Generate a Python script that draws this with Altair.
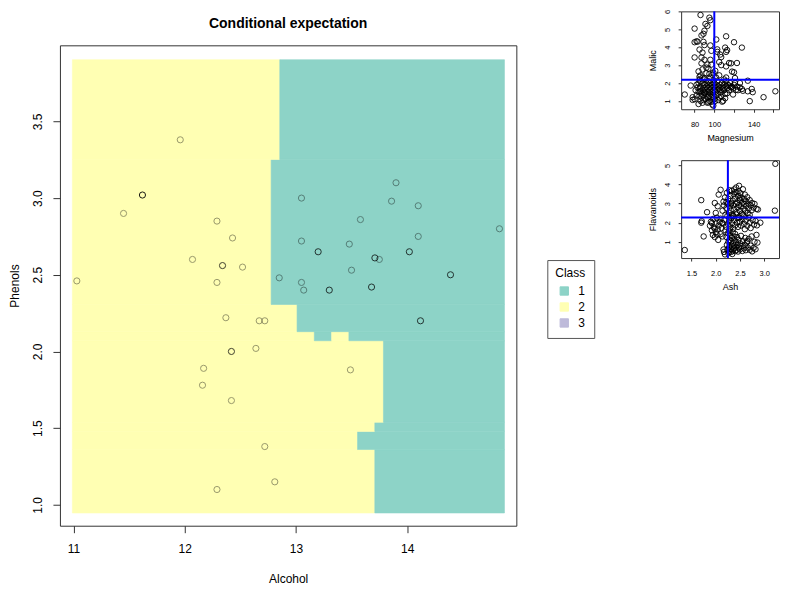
import altair as alt
import pandas as pd

# ---------------- main panel: predicted class on a 50 x 50 grid ----------------
grid_x0 = 10.99      # left edge of the grid (Alcohol)
grid_dx = 0.0777     # cell width
grid_y0 = 0.947      # bottom edge of the grid (Phenols)
grid_dy = 0.0591     # cell height
# (first_row, last_row, [(class, n_cells), ...]) rows counted from the bottom
grid_runs = [
    (0, 6, [("2", 35), ("1", 15)]),
    (7, 8, [("2", 33), ("1", 17)]),
    (9, 9, [("2", 35), ("1", 15)]),
    (10, 18, [("2", 36), ("1", 14)]),
    (19, 19, [("2", 28), ("1", 2), ("2", 2), ("1", 18)]),
    (20, 22, [("2", 26), ("1", 24)]),
    (23, 38, [("2", 23), ("1", 27)]),
    (39, 49, [("2", 24), ("1", 26)]),
]

classes = ["1", "2", "3"]
class_colors = ["#8DD3C7", "#FFFFB3", "#BEBADA"]

# observations near the section (Alcohol, Phenols, weight)
alcohol = [11.96, 11.62, 11.45, 12.29, 12.43, 12.07, 12.34, 12.52, 11.03, 12.29,
           13.05, 13.90, 13.86, 14.10, 13.58, 14.83, 13.05, 13.48, 14.10, 13.20,
           13.71, 13.75, 14.02, 13.50, 14.39, 12.85, 13.05, 13.07, 13.30, 13.68,
           14.12, 12.37, 12.67, 12.72, 12.42, 12.64, 12.17, 12.16, 12.42, 13.49,
           12.72, 12.81, 12.29]
phenols = [3.38, 3.02, 2.90, 2.85, 2.74, 2.60, 2.56, 2.55, 2.46, 2.45,
           3.00, 3.10, 2.98, 2.95, 2.86, 2.80, 2.72, 2.70, 2.75, 2.65,
           2.61, 2.60, 2.65, 2.53, 2.50, 2.48, 2.45, 2.40, 2.40, 2.42,
           2.20, 2.22, 2.20, 2.20, 2.00, 2.02, 1.89, 1.78, 1.68, 1.88,
           1.38, 1.15, 1.10]
weight = [0.40, 0.90, 0.40, 0.40, 0.40, 0.40, 0.75, 0.40, 0.40, 0.40,
          0.40, 0.40, 0.40, 0.40, 0.40, 0.40, 0.40, 0.40, 0.40, 0.75,
          0.75, 0.40, 0.75, 0.40, 0.75, 0.40, 0.40, 0.40, 0.75, 0.75,
          0.75, 0.40, 0.40, 0.40, 0.75, 0.40, 0.40, 0.40, 0.40, 0.40,
          0.40, 0.40, 0.40]

# ---------------- small panel 1: Magnesium vs Malic ----------------
magnesium_malic = [
    (86, 5.80), (95, 5.65), (96, 5.51), (93, 5.19), (80, 5.04), (91, 5.30), (90, 4.92), (87, 4.66),
    (89, 4.75), (102, 4.43), (112, 4.61), (83, 4.31), (80, 4.28), (82, 4.33), (89, 4.30), (90, 4.12),
    (96, 4.10), (120, 4.28), (128, 3.98), (103, 3.88), (111, 3.98), (113, 3.84), (85, 3.87), (88, 3.70),
    (97, 3.80), (103, 3.74), (112, 3.74), (80, 3.43), (87, 3.43), (90, 3.30), (96, 3.30), (106, 3.59),
    (107, 3.45), (117, 3.10), (123, 3.12), (87, 3.10), (93, 3.03), (97, 3.03), (107, 3.00), (115, 3.12),
    (105, 3.17), (92, 2.86), (88, 2.76), (112, 2.93), (118, 2.64), (120, 2.60), (92, 2.55), (95, 2.51),
    (98, 2.46), (86, 2.43), (105, 2.43), (85, 2.35), (90, 2.27), (112, 2.31), (121, 2.28), (134, 2.13),
    (99, 2.58), (101, 2.68), (94, 2.80), (84, 2.65),
    (78, 1.21), (78, 1.06), (84, 0.83), (94, 0.93), (108, 0.96), (109, 1.01), (113, 1.43), (119, 1.36),
    (122, 1.62), (126, 1.76), (128, 1.67), (134, 1.54), (136, 0.99), (138, 1.67), (150, 1.21), (162, 1.54),
    (70, 1.36), (76, 1.86), (139, 1.49), (129, 1.57), (117, 1.76), (116, 1.81),
    (80, 1.10), (81, 1.60), (82, 1.90), (84, 1.50), (84, 2.00), (85, 1.30), (85, 1.70), (86, 1.00),
    (86, 1.80), (86, 2.10), (87, 1.40), (87, 1.20), (88, 1.60), (88, 2.00), (88, 0.90), (89, 1.70),
    (89, 1.30), (90, 1.50), (90, 1.90), (90, 2.20), (91, 1.10), (91, 1.60), (92, 1.80), (92, 1.40),
    (92, 2.00), (93, 1.20), (93, 1.70), (94, 1.50), (94, 1.90), (94, 2.10), (95, 1.30), (95, 1.60),
    (95, 1.00), (96, 1.80), (96, 1.40), (96, 2.00), (97, 1.70), (97, 1.20), (98, 1.50), (98, 1.90),
    (98, 0.80), (99, 1.60), (99, 1.30), (100, 1.80), (100, 1.10), (100, 2.00), (101, 1.50), (101, 1.70),
    (102, 1.90), (102, 1.30), (103, 1.60), (103, 2.10), (104, 1.80), (104, 1.40), (105, 1.70), (105, 1.20),
    (106, 1.90), (106, 1.60), (107, 1.50), (108, 1.80), (108, 2.00), (109, 1.70), (110, 1.60), (110, 1.90),
    (111, 1.40), (112, 1.80), (112, 2.10), (113, 1.70), (114, 1.90), (115, 1.60), (116, 2.00), (118, 1.80),
    (119, 1.70), (120, 1.90), (121, 2.00), (123, 1.80), (124, 1.60), (126, 2.00), (85, 2.20), (88, 2.30),
    (96, 2.30), (102, 2.30), (110, 2.20), (82, 1.30), (83, 1.75), (89, 1.05), (97, 0.95), (99, 0.74),
    (93, 0.90), (101, 1.00), (104, 1.05), (107, 1.25), (111, 1.15), (90, 1.45), (86, 1.55), (99, 2.15),
    (94, 1.25),
]
section_magnesium = 100
section_malic = 2.19

# ---------------- small panel 2: Ash vs Flavanoids ----------------
ash_flavanoids = [
    (3.23, 5.08), (1.36, 0.57), (3.22, 2.63), (1.70, 3.18), (1.82, 2.55), (1.71, 2.08), (1.70, 2.00),
    (1.75, 1.28), (2.10, 3.72), (2.06, 3.47), (2.48, 3.93), (2.92, 2.00), (2.86, 0.96), (2.65, 1.04),
    (1.88, 1.84), (1.90, 2.05), (1.92, 1.60), (1.94, 1.36), (1.95, 2.20), (1.96, 1.76), (1.98, 1.25),
    (2.00, 1.95), (2.00, 1.50), (2.02, 2.26), (2.04, 1.65), (2.05, 1.10), (2.06, 1.85), (2.08, 2.03),
    (2.10, 1.40), (2.12, 1.72), (2.13, 2.00), (2.14, 1.28), (1.92, 1.98), (1.98, 1.68), (2.02, 1.39),
    (2.10, 2.21), (2.00, 2.51), (1.98, 3.03), (2.04, 2.86),
    (2.14, 2.63), (2.16, 3.10), (2.17, 2.90), (2.19, 3.32), (2.20, 2.41), (2.22, 2.76), (2.23, 3.56),
    (2.24, 2.98), (2.26, 3.25), (2.27, 2.52), (2.28, 3.70), (2.29, 2.85), (2.30, 3.40), (2.31, 2.64),
    (2.32, 3.03), (2.33, 3.67), (2.34, 2.43), (2.35, 3.15), (2.36, 2.91), (2.37, 3.49), (2.38, 3.74),
    (2.38, 2.69), (2.40, 3.27), (2.41, 2.98), (2.42, 3.84), (2.43, 2.55), (2.43, 3.59), (2.44, 3.06),
    (2.45, 2.79), (2.46, 3.39), (2.47, 3.64), (2.48, 2.92), (2.50, 3.19), (2.50, 2.61), (2.51, 3.54),
    (2.52, 2.86), (2.53, 3.32), (2.54, 2.47), (2.55, 3.03), (2.56, 3.75), (2.57, 2.74), (2.58, 3.24),
    (2.59, 2.98), (2.60, 3.47), (2.61, 2.63), (2.62, 3.12), (2.63, 2.88), (2.65, 3.33), (2.66, 2.51),
    (2.67, 3.00), (2.68, 2.74), (2.70, 3.18), (2.72, 2.90), (2.74, 2.65), (2.75, 3.03), (2.78, 2.79),
    (2.80, 2.98), (2.84, 2.72), (2.87, 2.69), (2.28, 2.27), (2.36, 2.36), (2.45, 2.24), (2.58, 2.33),
    (2.70, 2.41), (2.22, 3.08), (2.40, 3.60), (2.31, 2.98), (2.49, 3.28),
    (2.20, 1.60), (2.22, 1.25), (2.23, 0.84), (2.24, 0.58), (2.25, 1.45), (2.26, 0.99), (2.27, 0.70),
    (2.28, 1.10), (2.28, 0.48), (2.29, 1.64), (2.30, 0.83), (2.30, 1.32), (2.31, 0.61), (2.32, 1.02),
    (2.32, 0.47), (2.33, 1.20), (2.34, 0.76), (2.35, 1.50), (2.35, 0.55), (2.36, 0.92), (2.37, 1.28),
    (2.37, 0.65), (2.38, 0.80), (2.39, 1.09), (2.40, 0.51), (2.40, 1.41), (2.41, 0.69), (2.42, 0.96),
    (2.43, 0.58), (2.44, 1.25), (2.45, 0.83), (2.46, 0.49), (2.47, 1.10), (2.48, 0.70), (2.50, 0.92),
    (2.50, 0.60), (2.52, 1.31), (2.53, 0.78), (2.55, 0.52), (2.56, 1.03), (2.58, 0.66), (2.60, 0.84),
    (2.61, 1.20), (2.62, 0.56), (2.64, 0.97), (2.66, 0.70), (2.68, 1.15), (2.70, 0.58), (2.72, 0.80),
    (2.74, 1.28), (2.75, 0.50), (2.78, 0.68), (2.80, 1.00), (2.82, 0.61), (2.84, 1.36), (2.16, 0.60),
    (2.17, 0.47), (2.19, 0.34), (2.26, 0.40), (2.34, 0.36),
    (2.15, 1.95), (2.18, 2.15), (2.21, 1.79), (2.24, 2.35), (2.26, 1.90), (2.28, 2.10), (2.30, 1.75),
    (2.32, 2.25), (2.34, 1.98), (2.36, 1.69), (2.38, 2.14), (2.40, 1.86), (2.42, 2.43), (2.44, 2.00),
    (2.46, 1.78), (2.48, 2.27), (2.50, 2.05), (2.52, 1.85), (2.55, 2.19), (2.58, 1.94), (2.60, 1.66),
    (2.62, 2.12), (2.65, 1.84), (2.68, 2.26), (2.70, 2.00), (2.72, 1.72), (2.76, 2.14), (2.79, 1.90),
    (2.82, 2.09), (2.85, 1.86), (2.28, 1.55), (2.36, 2.33), (2.56, 2.42),
]
section_ash = 2.25
section_flavanoids = 2.27

FONT = "Liberation Sans"

# ---------------- build tables ----------------
rect_rows = []
for r0, r1, runs in grid_runs:
    c = 0
    for cls, n in runs:
        rect_rows.append({
            "x": grid_x0 + c * grid_dx, "x2": grid_x0 + (c + n) * grid_dx,
            "y": grid_y0 + r0 * grid_dy, "y2": grid_y0 + (r1 + 1) * grid_dy,
            "Class": cls,
        })
        c += n
rect_df = pd.DataFrame(rect_rows)
pts_df = pd.DataFrame({"Alcohol": alcohol, "Phenols": phenols, "w": weight})
p1_df = pd.DataFrame(magnesium_malic, columns=["Magnesium", "Malic"])
p2_df = pd.DataFrame(ash_flavanoids, columns=["Ash", "Flavanoids"])

xscale = alt.Scale(domain=[10.878, 14.982], nice=False, zero=False)
yscale = alt.Scale(domain=[0.864, 3.996], nice=False, zero=False)

xaxis = alt.Axis(values=[11, 12, 13, 14], format="d", title="Alcohol", tickSize=7,
                 labelFontSize=12, labelPadding=11, titleFontSize=12, titlePadding=19)
yaxis = alt.Axis(values=[1.0, 1.5, 2.0, 2.5, 3.0, 3.5], format=".1f", title="Phenols",
                 tickSize=7, labelAngle=270, labelAlign="center", labelBaseline="bottom",
                 labelFontSize=12, labelPadding=8, titleFontSize=12, titlePadding=10)

cls_scale = alt.Scale(domain=classes, range=class_colors)
heat = alt.Chart(rect_df).mark_rect(strokeWidth=0.6).encode(
    x=alt.X("x:Q", scale=xscale, axis=xaxis),
    x2="x2:Q",
    y=alt.Y("y:Q", scale=yscale, axis=yaxis),
    y2="y2:Q",
    stroke=alt.Stroke("Class:N", scale=cls_scale, legend=None),
    color=alt.Color("Class:N", scale=cls_scale,
                    legend=alt.Legend(title="Class", orient="none", legendX=488, legendY=249,
                                      strokeColor="#555", padding=8, symbolType="square",
                                      symbolSize=70, symbolStrokeColor="black", symbolStrokeWidth=1,
                                      labelFontSize=12, titleFontSize=12, titleFontWeight="normal",
                                      titleAnchor="middle", rowPadding=2, labelOffset=8,
                                      symbolOffset=2)),
)
obs = alt.Chart(pts_df).mark_point(shape="circle", filled=False, color="black", size=38,
                                   strokeWidth=1).encode(
    x=alt.X("Alcohol:Q", scale=xscale, axis=xaxis),
    y=alt.Y("Phenols:Q", scale=yscale, axis=yaxis),
    opacity=alt.Opacity("w:Q", scale=None, legend=None))

main = alt.layer(heat, obs).properties(
    width=457, height=481,
    title=alt.TitleParams(text="Conditional expectation", fontSize=14, fontWeight="bold",
                          anchor="middle", frame="group", offset=14),
)

spacer = alt.Chart(pd.DataFrame({"v": [0]})).mark_point(size=0, opacity=0).encode(
    x=alt.value(0), y=alt.value(0)).properties(
    width=457, height=1, view=alt.ViewBackground(stroke="transparent"))


def small_panel(df, xc, yc, xdom, ydom, xvals, xexpr, xfmt, yvals, vline, hline):
    xs = alt.Scale(domain=xdom, nice=False, zero=False)
    ys = alt.Scale(domain=ydom, nice=False, zero=False)
    xa = alt.Axis(values=xvals, labelExpr=xexpr, format=xfmt, title=xc, tickSize=3,
                  labelFontSize=7.5, labelPadding=8, titleFontSize=9, titlePadding=6,
                  labelOverlap=False, labelFlush=False)
    ya = alt.Axis(values=yvals, format="d", title=yc, tickSize=3, labelAngle=270,
                  labelAlign="center", labelBaseline="bottom", labelFontSize=7.5,
                  labelPadding=7, titleFontSize=9, titlePadding=6, labelOverlap=False,
                  labelFlush=False)
    X = alt.X(f"{xc}:Q", scale=xs, axis=xa)
    Y = alt.Y(f"{yc}:Q", scale=ys, axis=ya)
    pts = alt.Chart(df).mark_point(shape="circle", filled=False, color="black", size=30,
                                   strokeWidth=0.9, opacity=1).encode(x=X, y=Y)
    vr = alt.Chart(pd.DataFrame({xc: [vline]})).mark_rule(color="#0000FF", strokeWidth=2).encode(
        x=X)
    hr = alt.Chart(pd.DataFrame({yc: [hline]})).mark_rule(color="#0000FF", strokeWidth=2).encode(
        y=Y)
    return alt.layer(pts, vr, hr).properties(width=98, height=98)


p1 = small_panel(p1_df, "Magnesium", "Malic", [66.32, 165.68], [0.5376, 6.0024],
                 [80, 100, 120, 140, 160],
                 "datum.value == 120 || datum.value == 160 ? '' : datum.label", "d",
                 [1, 2, 3, 4, 5, 6], section_magnesium, section_malic)
p2 = small_panel(p2_df, "Ash", "Flavanoids", [1.285, 3.305], [0.15, 5.27],
                 [1.5, 2.0, 2.5, 3.0], "datum.label", ".1f",
                 [1, 2, 3, 4, 5], section_ash, section_flavanoids)

left = alt.vconcat(spacer, main, spacing=3)
right = alt.vconcat(p1, p2, spacing=15)
chart = alt.hconcat(left, right, spacing=130).properties(padding=0).configure(
    font=FONT).configure_view(stroke="#333", strokeWidth=1).configure_axis(
    grid=False, domain=False, labelColor="black", titleColor="black", tickColor="#333",
    titleFontWeight="normal", labelFont=FONT, titleFont=FONT, labelOverlap=False).configure_legend(
    labelFont=FONT, titleFont=FONT).configure_title(font=FONT, color="black")

chart.save("out.html", embed_options={"renderer": "svg", "actions": False})
